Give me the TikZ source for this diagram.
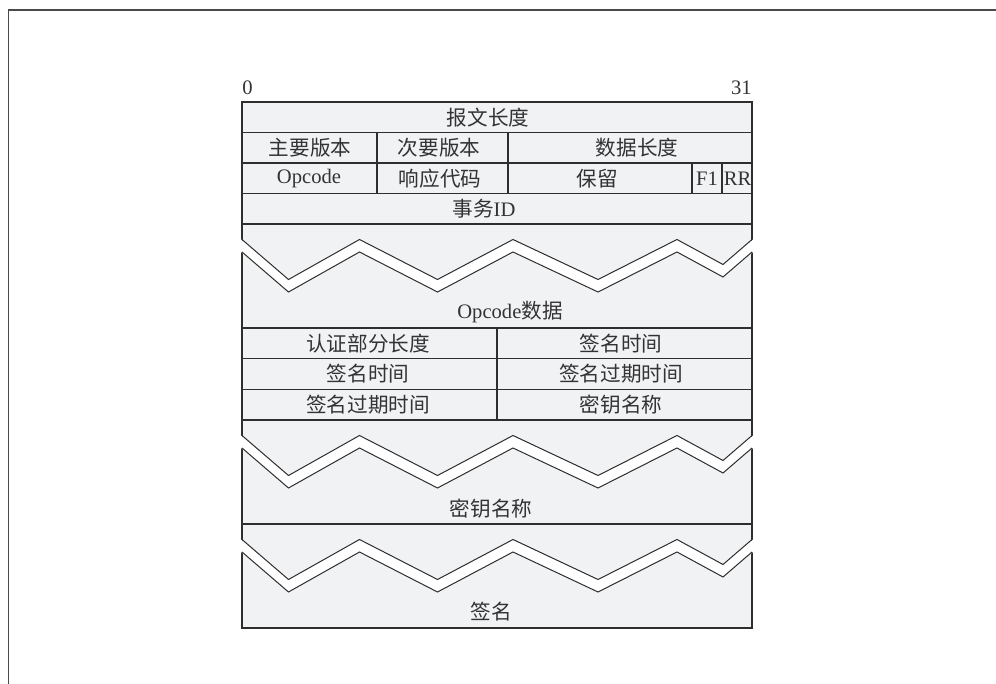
\documentclass[tikz,border=0pt]{standalone}
\usepackage{fontspec}
\setmainfont{Liberation Serif}
\newfontfamily\cjk{Noto Sans CJK SC}
\definecolor{cellgray}{HTML}{F1F2F4}
\definecolor{linecol}{HTML}{2E2E2E}
\definecolor{textcol}{HTML}{333333}
\definecolor{framecol}{HTML}{4A4A4A}
\tikzset{
  lbl/.style={inner sep=0pt, text=textcol},
  rule/.style={draw=linecol, line width=0.6pt},
  zig/.style={draw=linecol, line width=0.5pt, line join=miter}
}
\begin{document}
\begin{tikzpicture}[x=0.5pt, y=-0.5pt, font=\fontsize{10.3}{12}\selectfont]
  \useasboundingbox (0,0) rectangle (996,684);

  % Outer frame (open to the right and bottom)
  \draw[framecol, line width=0.6pt] (996,10) -- (8.5,10) -- (8.5,684);

  % Body of the message
  \fill[cellgray] (242,102) rectangle (752,628);

  % Row rules
  \foreach \y in {132.5,163,193.5,224,328,358.7,389.3,420,524}
    \draw[rule] (242,\y) -- (752,\y);

  % Column rules
  \draw[rule] (377,132.5) -- (377,193.5);
  \draw[rule] (508,132.5) -- (508,193.5);
  \draw[rule] (692,163) -- (692,193.5);
  \draw[rule] (722,163) -- (722,193.5);
  \draw[rule] (497,328) -- (497,420);

  % Border
  \draw[rule] (242,102) rectangle (752,628);

  % Variable-length fields: zigzag breaks
  \foreach \t in {224,420,524} {
    \fill[white] (241,\t+15.5) -- (288.5,\t+55.5) -- (359.5,\t+15.5) -- (437.5,\t+55.5)
      -- (513,\t+15.5) -- (598,\t+55.5) -- (677,\t+15.5) -- (723,\t+40.5) -- (753,\t+15.5)
      -- (753,\t+28) -- (723,\t+53) -- (677,\t+28) -- (598,\t+68) -- (513,\t+28)
      -- (437.5,\t+68) -- (359.5,\t+28) -- (288.5,\t+68) -- (241,\t+28) -- cycle;
    \foreach \s in {0,12.5}
      \draw[zig, shift={(0,\s)}] (242,\t+15.5) -- (288.5,\t+55.5) -- (359.5,\t+15.5)
        -- (437.5,\t+55.5) -- (513,\t+15.5) -- (598,\t+55.5) -- (677,\t+15.5)
        -- (723,\t+40.5) -- (752,\t+15.5);
  }

  % Bit numbers
  \node[lbl, anchor=base west] (bitlo) at (242,95) {0};
  \node[lbl, anchor=base east] (bithi) at (752,95) {31};

  % Header fields
  \node[lbl] (msglen)  at (488,117.5) {\cjk 报文长度};
  \node[lbl] (major)   at (310,148) {\cjk 主要版本};
  \node[lbl] (minor)   at (439,148) {\cjk 次要版本};
  \node[lbl] (datalen) at (637,148) {\cjk 数据长度};
  \node[lbl] (opcode)  at (309,178.5) {Opcode};
  \node[lbl] (rcode)   at (440,178.5) {\cjk 响应代码};
  \node[lbl] (resv)    at (597,178.5) {\cjk 保留};
  \node[lbl] (fone)    at (707,178.5) {F1};
  \node[lbl] (rrflag)  at (737.5,178.5) {RR};
  \node[lbl] (txid)    at (484,209) {{\cjk 事务}ID};
  \node[lbl] (opdata)  at (510,312) {Opcode{\cjk 数据}};

  % Authentication section
  \node[lbl] (authlen)  at (368,343.3) {\cjk 认证部分长度};
  \node[lbl] (signtm)   at (621,343.3) {\cjk 签名时间};
  \node[lbl] (signtmb)  at (368,374) {\cjk 签名时间};
  \node[lbl] (expire)   at (621,374) {\cjk 签名过期时间};
  \node[lbl] (expireb)  at (368,404.7) {\cjk 签名过期时间};
  \node[lbl] (keyname)  at (621,404.7) {\cjk 密钥名称};
  \node[lbl] (keydata)  at (491,508.5) {\cjk 密钥名称};
  \node[lbl] (sig)      at (491,612) {\cjk 签名};
\end{tikzpicture}
\end{document}
